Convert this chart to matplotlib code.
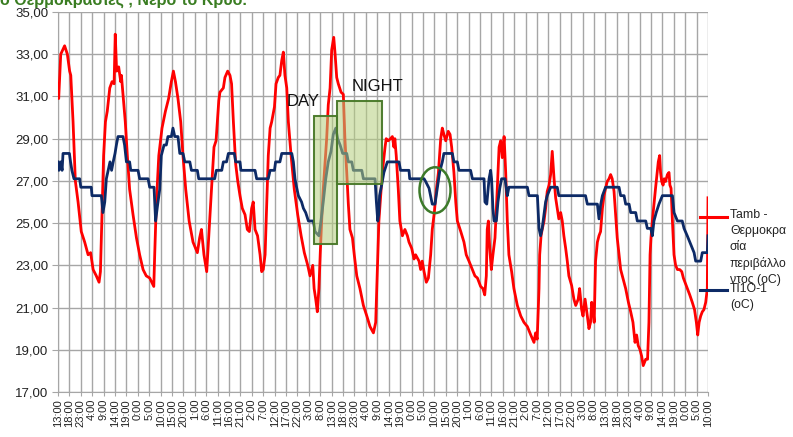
import numpy as np
import matplotlib
matplotlib.use("Agg")
import matplotlib.pyplot as plt
from matplotlib.lines import Line2D
from matplotlib.patches import Rectangle, Ellipse
from matplotlib.ticker import FuncFormatter

plt.rcParams['font.family'] = ['Liberation Sans', 'DejaVu Sans']

# hours from the first sample (13:00), ambient temperature (red)
tamb_h = [0, 0.3, 1.2, 2.9, 4.1, 5.1, 5.6, 6.6, 7.6, 8.8, 10.2, 11.7, 13.2, 14.3, 15.4, 16.8,
          18.0, 18.6, 19.2, 20.0, 20.8, 21.6, 22.7, 23.7, 24.6, 25.1, 25.7, 26.6, 27.5, 27.8,
          28.5, 29.5, 30.4, 31.4, 32.9, 34.4, 35.8, 37.3, 38.7, 40.2, 42.0, 42.4, 43.1, 44.2,
          45.6, 47.1, 48.5, 49.7, 50.6, 51.5, 52.6, 53.8, 54.8, 56.0, 57.5, 59.2, 61.1, 62.1,
          62.9, 64.0, 65.2, 66.1, 67.3, 68.4, 69.3, 70.5, 71.0, 72.5, 73.2, 74.4, 75.4, 76.1,
          76.9, 77.9, 78.8, 79.8, 80.8, 82.0, 83.0, 83.9, 84.9, 85.6, 86.4, 87.5, 88.6, 89.3,
          90.0, 90.8, 91.5, 92.2, 93.0, 93.7, 94.9, 95.6, 96.6, 97.3, 98.1, 98.8, 99.5, 100.3,
          101.0, 102.2, 103.6, 105.1, 106.6, 108.0, 109.5, 110.5, 111.7, 112.3, 113.0, 113.7,
          114.4, 115.0, 115.6, 116.3, 117.1, 117.8, 118.5, 119.3, 120.0, 120.9, 121.5, 122.2,
          122.9, 124.1, 125.1, 125.8, 126.6, 127.3, 128.0, 129.1, 129.9, 131.0, 132.4, 133.9,
          135.4, 136.8, 138.3, 139.3, 140.7, 142.2, 143.4, 143.9, 144.8, 145.8, 146.6, 147.3,
          147.7, 148.3, 149.2, 149.9, 151.0, 152.1, 153.2, 153.9, 155.1, 156.1, 156.8, 158.3,
          159.0, 159.7, 160.5, 161.5, 162.4, 163.4, 164.1, 165.0, 165.9, 166.8, 167.8, 168.5,
          169.2, 170.0, 171.1, 171.9, 172.6, 173.6, 174.4, 175.1, 176.6, 178.0, 179.0, 180.2,
          181.7, 182.8, 183.9, 185.3, 186.3, 187.1, 187.8, 188.2, 188.7, 189.3, 190.0, 190.7,
          191.6, 192.6, 193.4, 194.1, 194.8, 195.6, 196.3, 197.0, 197.7, 198.9, 199.9, 201.4,
          202.9, 204.3, 205.8, 207.3, 208.7, 209.4, 210.1, 210.9, 211.2, 211.8, 212.3, 213.1,
          213.8, 214.5, 215.3, 216.0, 216.7, 217.5, 218.2, 218.9, 219.6, 220.4, 221.1, 221.8,
          222.6, 223.3, 224.0, 225.2, 226.2, 227.0, 228.1, 228.7, 229.6, 230.2, 231.1, 232.1,
          232.8, 233.5, 234.0, 234.6, 235.1, 235.7, 236.5, 237.2, 237.9, 238.7, 239.4, 240.1,
          240.8, 241.6, 242.3, 243.0, 243.8, 244.5, 245.2, 246.0, 246.7, 247.7, 248.9, 250.1,
          251.1, 252.1, 253.0, 253.7, 254.4, 255.2, 255.9, 256.6, 257.7, 258.5, 259.1, 259.6,
          260.0, 260.6, 261.3, 262.0, 262.6, 263.2, 263.8, 264.2, 264.7, 265.3, 265.8, 266.4,
          267.2, 267.9, 268.3, 268.8, 269.4, 270.1, 270.8, 271.6, 272.6, 273.5, 274.2, 274.9,
          275.9, 277.0, 278.1, 279.1, 279.9, 280.5, 281.1, 281.8, 282.5, 283.2, 284.0, 284.7,
          285.0]
tamb_v = [31.6, 30.9, 33.0, 33.4, 33.0, 32.2, 32.0, 29.8, 27.0, 26.0, 24.6, 24.1, 23.5, 23.6, 22.8, 22.5,
          22.2, 22.7, 25.1, 28.2, 29.8, 30.3, 31.4, 31.7, 31.6, 33.95, 32.2, 32.4, 31.7, 32.0,
          31.1, 29.8, 28.2, 26.6, 25.4, 24.3, 23.5, 22.8, 22.5, 22.4, 22.0, 23.5, 25.9, 28.2,
          29.5, 30.3, 30.9, 31.7, 32.2, 31.7, 30.9, 29.8, 28.2, 26.6, 25.1, 24.1, 23.6, 24.3,
          24.7, 23.5, 22.7, 24.4, 26.6, 28.6, 28.9, 30.8, 31.2, 31.4, 31.9, 32.2, 32.0, 31.6,
          29.8, 27.8, 27.0, 26.3, 25.7, 25.4, 24.7, 24.6, 25.7, 26.0, 24.7, 24.4, 23.5, 22.7,
          22.8, 23.5, 25.9, 28.2, 29.5, 29.8, 30.5, 31.6, 31.9, 32.0, 32.7, 33.1, 32.0, 31.4,
          29.8, 28.2, 26.6, 25.4, 24.4, 23.6, 23.0, 22.5, 23.0, 21.9, 21.4, 20.8,
          21.9, 23.6, 25.1, 26.6, 27.9, 29.0, 30.6, 31.4, 33.2, 33.8, 33.0, 31.9,
          31.6, 31.2, 31.1, 29.0, 27.4, 25.9, 24.7, 24.3, 23.5, 22.5, 21.9, 21.1,
          20.6, 20.1, 19.8, 20.3, 25.1, 27.4, 28.6, 29.0, 28.9, 29.0, 29.1, 28.6,
          29.0, 28.2, 26.6, 25.1, 24.4, 24.7, 24.4, 24.1, 23.8, 23.3, 23.5, 23.2,
          22.8, 23.2, 22.7, 22.2, 22.4, 23.5, 24.7, 25.5, 26.6, 27.4, 29.0, 29.5,
          29.2, 28.9, 29.35, 29.2, 28.6, 27.4, 26.0, 25.1, 24.6, 24.1, 23.5, 23.2,
          22.8, 22.5, 22.4, 22.0, 21.9, 21.6, 22.5, 24.7, 25.1, 23.8, 22.8, 23.5,
          24.3, 26.6, 28.6, 28.9, 28.1, 29.1, 27.4, 25.1, 23.5, 22.7, 21.9, 21.1,
          20.6, 20.3, 20.1, 19.7, 19.35, 19.8, 19.5, 21.9, 23.5, 24.4, 24.7, 25.1,
          25.7, 26.5, 26.8, 27.3, 28.4, 27.1, 26.2, 25.7, 25.2, 25.5, 25.1, 24.4,
          23.8, 23.2, 22.5, 22.05, 21.4, 21.1, 21.4, 21.9, 20.9, 20.6, 21.4, 20.6,
          20.0, 20.3, 21.25, 20.9, 20.3, 23.2, 24.1, 24.4, 24.6, 25.7, 26.3, 26.65,
          26.97, 27.1, 27.3, 27.1, 26.5, 25.4, 24.3, 23.5, 22.8, 22.4, 21.9, 21.25,
          20.8, 20.3, 19.35, 19.7, 19.2, 19.0, 18.7, 18.25, 18.55, 18.55, 20.3, 23.5,
          24.3, 25.1, 25.9, 26.65, 27.3, 27.9, 28.2, 27.4, 26.97, 26.8, 27.1, 26.97,
          27.3, 27.4, 26.8, 26.65, 25.1, 23.5, 23.0, 22.8, 22.8, 22.7, 22.4, 22.2,
          21.9, 21.6, 21.25, 20.9, 20.3, 19.7, 20.3, 20.6, 20.8, 20.9, 21.25, 21.9,
          26.2]

# hours and values of the TI1O-1 series (blue)
ti_h = [0, 0.4, 1.2, 1.8, 2.2, 5.0, 5.5, 6.1, 7.0, 9.5, 10.0, 14.6, 14.9, 19.0, 19.7, 20.5,
        21.2, 22.0, 22.8, 23.5, 24.2, 25.0, 25.6, 26.3, 28.5, 29.2, 30.0, 31.4, 31.9, 35.1,
        35.8, 39.5, 40.2, 42.1, 42.8, 43.6, 44.6, 45.3, 46.5, 47.5, 48.2, 49.7, 50.4, 51.2,
        52.6, 53.4, 54.8, 55.6, 57.8, 58.5, 61.1, 61.7, 68.7, 69.4, 71.8, 72.5, 73.9, 74.7,
        77.3, 77.9, 79.8, 80.2, 86.4, 87.1, 92.2, 93.0, 94.9, 95.4, 97.3, 98.1, 102.5, 103.2,
        103.9, 104.6, 105.4, 106.8, 107.6, 108.6, 109.8, 112.0, 112.7, 114.4, 115.3, 116.3,
        117.4, 118.5, 119.7, 120.7, 121.8, 122.6, 123.7, 124.8, 126.6, 127.3, 128.8, 129.5,
        133.2, 133.9, 139.0, 139.6, 140.2, 140.6, 141.0, 141.9, 142.9, 144.4, 149.5, 150.2,
        153.9, 154.2, 160.5, 161.2, 162.7, 164.1, 165.3, 166.3, 167.3, 168.5, 169.2, 172.9,
        173.6, 175.1, 175.8, 180.9, 181.7, 186.8, 187.2, 188.0, 189.0, 189.7, 190.1, 190.7,
        191.2, 192.2, 192.9, 193.7, 194.5, 196.0, 197.0, 197.7, 205.8, 206.5, 210.2, 210.9,
        211.6, 212.3, 213.1, 213.8, 214.5, 216.0, 218.9, 219.6, 231.3, 232.1, 236.5, 237.2,
        237.9, 238.7, 240.1, 246.0, 246.7, 248.2, 248.9, 250.4, 251.1, 253.3, 254.0, 257.7,
        258.4, 259.9, 260.6, 261.3, 262.3, 263.5, 265.0, 269.4, 270.1, 271.6, 273.7, 274.5,
        275.9, 277.4, 278.9, 279.6, 281.8, 282.5, 284.7, 285.0]
ti_v = [27.9, 27.5, 27.9, 27.5, 28.3, 28.3, 27.9, 27.5, 27.1, 27.1, 26.7, 26.7, 26.3, 26.3, 25.5, 26.0,
        27.1, 27.5, 27.9, 27.5, 27.9, 28.3, 28.7, 29.1, 29.1, 28.7, 27.9, 27.9, 27.5, 27.5,
        27.1, 27.1, 26.7, 26.7, 25.1, 25.8, 26.6, 28.2, 28.7, 28.7, 29.1, 29.1, 29.5, 29.1,
        29.1, 28.3, 28.3, 27.9, 27.9, 27.5, 27.5, 27.1, 27.1, 27.5, 27.5, 27.9, 27.9, 28.3,
        28.3, 27.9, 27.9, 27.5, 27.5, 27.1, 27.1, 27.5, 27.5, 27.9, 27.9, 28.3, 28.3, 27.9,
        27.1, 26.7, 26.3, 26.0, 25.7, 25.5, 25.1, 25.1, 24.6, 24.4, 25.1, 26.0,
        27.1, 27.9, 28.4, 29.2, 29.5, 29.0, 28.7, 28.3, 28.3, 27.9, 27.9, 27.5,
        27.5, 27.1, 27.1, 26.0, 25.1, 25.4, 26.3, 26.8, 27.4, 27.9, 27.9, 27.5,
        27.5, 27.1, 27.1, 26.97, 26.65, 25.9, 25.9, 26.65, 27.4, 27.9, 28.3, 28.3,
        27.9, 27.9, 27.5, 27.5, 27.1, 27.1, 26.0, 25.9, 27.1, 27.5, 27.1, 25.7,
        25.1, 25.1, 26.0, 26.65, 27.1, 27.1, 26.3, 26.7, 26.7, 26.3, 26.3, 24.75,
        24.4, 24.75, 25.4, 26.0, 26.3, 26.7, 26.7, 26.3, 26.3, 25.9, 25.9, 25.2,
        25.85, 26.3, 26.7, 26.7, 26.3, 26.3, 25.9, 25.9, 25.5, 25.5, 25.1, 25.1,
        24.75, 24.75, 24.4, 25.1, 25.5, 25.9, 26.3, 26.3, 25.5, 25.1, 25.1, 24.75,
        24.4, 24.0, 23.6, 23.2, 23.2, 23.6, 23.6, 24.4]

x_labels = ['13:00', '18:00', '23:00', '4:00', '9:00', '14:00', '19:00', '0:00', '5:00', '10:00',
            '15:00', '20:00', '1:00', '6:00', '11:00', '16:00', '21:00', '2:00', '7:00', '12:00',
            '17:00', '22:00', '3:00', '8:00',
            '13:00', '18:00', '23:00', '4:00', '9:00', '14:00', '19:00', '0:00', '5:00', '10:00',
            '15:00', '20:00', '1:00', '6:00', '11:00', '16:00', '21:00', '2:00', '7:00', '12:00',
            '17:00', '22:00', '3:00', '8:00',
            '13:00', '18:00', '23:00', '4:00', '9:00', '14:00', '19:00', '0:00', '5:00', '10:00']

W, H = 793, 437
fig = plt.figure(figsize=(W / 100, H / 100), dpi=100)
ax = fig.add_axes([58 / W, 1 - 392 / H, 650 / W, 380 / H])

grid_col = '#a6a6a6'
ax.plot(tamb_h, tamb_v, color='#ff0000', lw=2.0, zorder=3)
ax.plot(ti_h, ti_v, color='#0d2a66', lw=2.0, zorder=4)

ax.set_xlim(0, 285)
ax.set_ylim(17, 35)
ax.set_xticks(np.arange(len(x_labels)) * 5)
ax.set_xticklabels(x_labels, rotation=90, fontsize=8, color='#222222')
ax.set_yticks(np.arange(17, 36, 2))
ax.yaxis.set_major_formatter(FuncFormatter(lambda v, p: f'{v:.2f}'.replace('.', ',')))
ax.tick_params(axis='y', labelsize=9.5, colors='#222222', length=4, color=grid_col, pad=3)
ax.tick_params(axis='x', length=3, color=grid_col, pad=2)
ax.grid(True, color=grid_col, lw=1)
ax.set_axisbelow(True)
for s in ['top', 'right']:
    ax.spines[s].set_visible(False)
for s in ['left', 'bottom']:
    ax.spines[s].set_color(grid_col)

# day / night annotations
box_face = '#b5cf7f'
box_edge = '#4a7a2a'
ax.add_patch(Rectangle((112.1, 24.0), 10.1, 6.07, facecolor=box_face, edgecolor=box_edge,
                       alpha=0.55, lw=1.5, zorder=5))
ax.add_patch(Rectangle((122.2, 26.85), 20.0, 3.95, facecolor=box_face, edgecolor=box_edge,
                       alpha=0.55, lw=1.5, zorder=5))
ax.add_patch(Rectangle((112.1, 24.0), 10.1, 6.07, fill=False, edgecolor=box_edge, lw=1.3, zorder=6))
ax.add_patch(Rectangle((122.2, 26.85), 20.0, 3.95, fill=False, edgecolor=box_edge, lw=1.3, zorder=6))
ax.add_patch(Ellipse((165.3, 26.56), 13.6, 2.17, fill=False, edgecolor='#3d7a2a', lw=1.8, zorder=6))
ax.text(100.4, 30.75, 'DAY', fontsize=12, va='center', ha='left', color='#111111', zorder=7)
ax.text(128.9, 31.45, 'NIGHT', fontsize=12, va='center', ha='left', color='#111111', zorder=7)

# title, cut off at the top edge like in the original
fig.text(0.0, 1 - 5 / H, 'ο Θερμοκρασίες , Νερό το Κρύο.', fontsize=11.5, fontweight='bold',
         color='#3a7d22', va='baseline', ha='left')

# legend drawn by hand, the two entries overlap like in the original
fig.add_artist(Line2D([700 / W, 727 / W], [1 - 216.5 / H] * 2, color='#ff0000', lw=2.2))
fig.add_artist(Line2D([700 / W, 727 / W], [1 - 290 / H] * 2, color='#0d2a66', lw=2.2))
fig.text(730 / W, 1 - 209 / H, 'Tamb -\nΘερμοκρα\nσία\nπεριβάλλο\nντος (oC)', fontsize=8.8,
         va='top', ha='left', linespacing=1.42, color='#222222')
fig.text(730 / W, 1 - 283 / H, 'TI1O-1\n(oC)', fontsize=8.8,
         va='top', ha='left', linespacing=1.42, color='#222222')

fig.savefig('out.png', dpi=100)
